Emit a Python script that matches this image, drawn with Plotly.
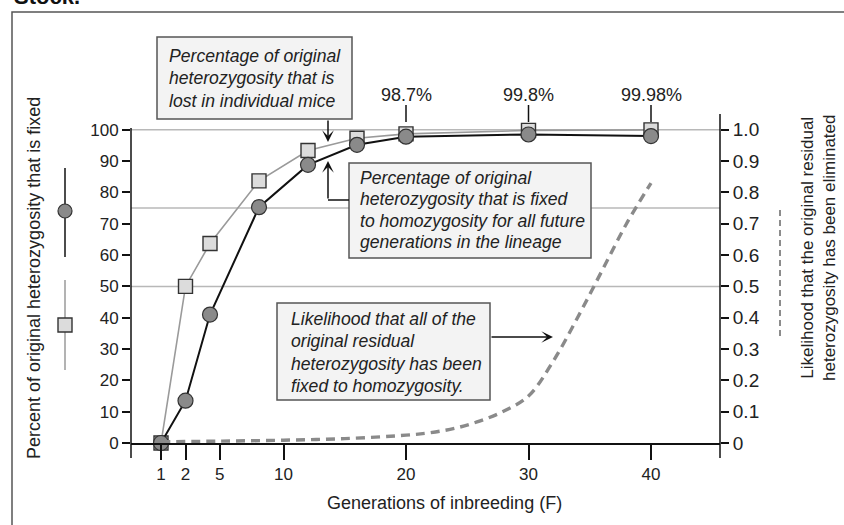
import plotly.graph_objects as go

# ---- data ----
gens = [0, 2, 4, 8, 12, 16, 20, 30, 40]
fixed_pct = [0, 13.5, 41, 75.3, 88.8, 95.2, 97.8, 98.5, 98.0]
lost_pct = [0, 50, 63.7, 83.7, 93.4, 97.3, 98.7, 99.8, 99.98]
lik_x = [0, 5, 10, 15, 20, 22, 24, 26, 28, 30, 32, 34, 36, 38, 40]
lik_y = [0.004, 0.006, 0.009, 0.014, 0.025, 0.033, 0.047, 0.07, 0.102, 0.15, 0.26, 0.40, 0.55, 0.70, 0.83]
x_tickvals = [0, 2, 4.8, 10, 20, 30, 40]
x_ticktext = ["1", "2", "5", "10", "20", "30", "40"]
y_ticks = [0, 10, 20, 30, 40, 50, 60, 70, 80, 90, 100]
y2_ticks = [0, 0.1, 0.2, 0.3, 0.4, 0.5, 0.6, 0.7, 0.8, 0.9, 1.0]
y2_ticktext = ["0", "0.1", "0.2", "0.3", "0.4", "0.5", "0.6", "0.7", "0.8", "0.9", "1.0"]
grid_levels = [100, 75, 50]
pct_labels = ["98.7%", "99.8%", "99.98%"]
pct_label_x = [20, 30, 40]
box1_lines = ["Percentage of original", "heterozygosity that is", "lost in individual mice"]
box2_lines = ["Percentage of original", "heterozygosity that is fixed",
              "to homozygosity for all future", "generations in the lineage"]
box3_lines = ["Likelihood that all of the", "original residual",
              "heterozygosity has been", "fixed to homozygosity."]

W, H = 844, 525
L, R, T, B = 131, 124, 111, 82
PW, PH = W - L - R, H - T - B
FONT = "Liberation Sans, Arial, Helvetica, sans-serif"


def px(x):
    return (x - L) / PW


def py(y):
    return (H - B - y) / PH


fig = go.Figure()
fig.add_trace(go.Scatter(
    x=gens, y=lost_pct, mode="lines+markers", cliponaxis=False,
    line=dict(color="#9a9a9a", width=1.6),
    marker=dict(symbol="square", size=14, color="#dcdcdc", line=dict(color="#333", width=1.4)),
    showlegend=False))
fig.add_trace(go.Scatter(
    x=gens, y=fixed_pct, mode="lines+markers", cliponaxis=False,
    line=dict(color="#111", width=2),
    marker=dict(symbol="circle", size=15, color="#8a8a8a", line=dict(color="#333", width=1.2)),
    showlegend=False))
fig.add_trace(go.Scatter(
    x=lik_x, y=lik_y, yaxis="y2", mode="lines",
    line=dict(color="#8a8a8a", width=3.4, dash="9px,6px", shape="spline"),
    showlegend=False))

shapes = []
# frame
shapes.append(dict(type="rect", xref="paper", yref="paper", x0=px(12), x1=px(870), y0=py(12), y1=py(560),
                   line=dict(color="#555", width=1.5), layer="below"))
# gridlines
for g in grid_levels:
    shapes.append(dict(type="line", xref="paper", yref="y", x0=0, x1=1, y0=g, y1=g,
                       line=dict(color="#b8b8b8", width=1.5), layer="below"))
# vertical axis lines
shapes.append(dict(type="line", xref="paper", yref="paper", x0=0, x1=0, y0=py(128), y1=py(458),
                   line=dict(color="#111", width=1.5)))
shapes.append(dict(type="line", xref="paper", yref="paper", x0=1, x1=1, y0=py(114), y1=py(458),
                   line=dict(color="#111", width=1.5)))
# percentage label ticks
for xv in pct_label_x:
    shapes.append(dict(type="line", xref="x", yref="paper", x0=xv, x1=xv, y0=py(105), y1=py(122),
                       line=dict(color="#111", width=1.5)))
# left legend glyphs
shapes.append(dict(type="line", xref="paper", yref="paper", x0=px(65), x1=px(65), y0=py(168), y1=py(257),
                   line=dict(color="#111", width=1.5)))
shapes.append(dict(type="circle", xref="paper", yref="paper", x0=px(58), x1=px(72), y0=py(218), y1=py(204),
                   fillcolor="#8a8a8a", line=dict(color="#333", width=1.2)))
shapes.append(dict(type="line", xref="paper", yref="paper", x0=px(65), x1=px(65), y0=py(280), y1=py(370),
                   line=dict(color="#9a9a9a", width=1.5)))
shapes.append(dict(type="rect", xref="paper", yref="paper", x0=px(58), x1=px(72), y0=py(332), y1=py(318),
                   fillcolor="#dcdcdc", line=dict(color="#333", width=1.4)))
# right legend dashed
shapes.append(dict(type="line", xref="paper", yref="paper", x0=px(780), x1=px(780), y0=py(210), y1=py(336),
                   line=dict(color="#8c8c8c", width=2, dash="6px,4px")))
# annotation boxes
boxes = [(157, 37, 352, 119), (349, 163, 591, 258), (277, 303, 490, 400)]
for (x0, y0, x1, y1) in boxes:
    shapes.append(dict(type="rect", xref="paper", yref="paper", x0=px(x0), x1=px(x1), y0=py(y1), y1=py(y0),
                       fillcolor="#f3f3f3", line=dict(color="#555", width=1.5)))
# elbow connector for box 2
shapes.append(dict(type="line", xref="paper", yref="paper", x0=px(328), x1=px(349), y0=py(200), y1=py(200),
                   line=dict(color="#111", width=1.5)))

ann = []
txtfont = dict(family=FONT, size=17, color="#222")
itfont = dict(family=FONT, size=17.6, color="#222", style="italic")
for (lines, x, y_first, step) in [(box1_lines, 167, 56, 22.5), (box2_lines, 358, 178, 21.3),
                                  (box3_lines, 289, 319, 22.3)]:
    for i, t in enumerate(lines):
        ann.append(dict(xref="paper", yref="paper", x=px(x), y=py(y_first + i * step),
                        xanchor="left", yanchor="middle", text=t, showarrow=False, font=itfont))
# arrows
arrow_common = dict(xref="paper", yref="paper", text="", showarrow=True, arrowhead=3,
                    arrowsize=1.3, arrowwidth=1.5, arrowcolor="#111", standoff=0, startstandoff=0)
ann.append(dict(x=px(328), y=py(142), ax=0, ay=-23, **arrow_common))
ann.append(dict(x=px(328), y=py(161), ax=0, ay=39, **arrow_common))
ann.append(dict(x=px(553), y=py(337), ax=-63, ay=0, **arrow_common))
# percent labels
for xv, t in zip(pct_label_x, pct_labels):
    ann.append(dict(xref="x", yref="paper", x=xv, y=py(95), text=t, showarrow=False,
                    xanchor="center", yanchor="middle", font=dict(family=FONT, size=18, color="#222")))
# axis titles
ann.append(dict(xref="paper", yref="paper", x=px(34), y=py(278), text="Percent of original heterozygosity that is fixed",
                textangle=-90, showarrow=False, xanchor="center", yanchor="middle",
                font=dict(family=FONT, size=18, color="#222")))
ann.append(dict(xref="paper", yref="paper", x=px(818), y=py(248),
                text="Likelihood that the original residual<br>heterozygosity has been eliminated",
                textangle=-90, showarrow=False, xanchor="center", yanchor="middle", font=txtfont))
ann.append(dict(xref="paper", yref="paper", x=px(444), y=py(503), text="Generations of inbreeding (F)",
                showarrow=False, xanchor="center", yanchor="middle",
                font=dict(family=FONT, size=18, color="#222")))
# cut-off title
ann.append(dict(xref="paper", yref="paper", x=px(12), y=py(11), text="<b>Stock.</b>", showarrow=False,
                xanchor="left", yanchor="bottom", font=dict(family=FONT, size=22, color="#111")))

fig.update_layout(
    width=W, height=H, margin=dict(l=L, r=R, t=T, b=B, pad=0),
    paper_bgcolor="white", plot_bgcolor="white",
    font=dict(family=FONT, size=16, color="#222"),
    xaxis=dict(range=[-30 / 12.25, -30 / 12.25 + PW / 12.25], tickvals=x_tickvals, ticktext=x_ticktext,
               showgrid=False, zeroline=False, showline=True, linecolor="#111", linewidth=1.5,
               ticks="outside", ticklen=15, tickwidth=1.5, tickcolor="#111",
               tickfont=dict(family=FONT, size=17, color="#222")),
    yaxis=dict(range=[0, 106], tickvals=y_ticks, showgrid=False, zeroline=False, showline=False,
               ticks="outside", ticklen=8, tickwidth=1.5, tickcolor="#111",
               tickfont=dict(family=FONT, size=17, color="#222")),
    yaxis2=dict(range=[0, 1.06], tickvals=y2_ticks, ticktext=y2_ticktext, overlaying="y", side="right",
                showgrid=False, zeroline=False, showline=False,
                ticks="outside", ticklen=8, tickwidth=1.5, tickcolor="#111",
                tickfont=dict(family=FONT, size=19, color="#222")),
    shapes=shapes, annotations=ann,
)

fig.write_html("out.html", config={"displayModeBar": False},
               post_script="document.body.style.margin='0';document.body.style.overflow='hidden';")
